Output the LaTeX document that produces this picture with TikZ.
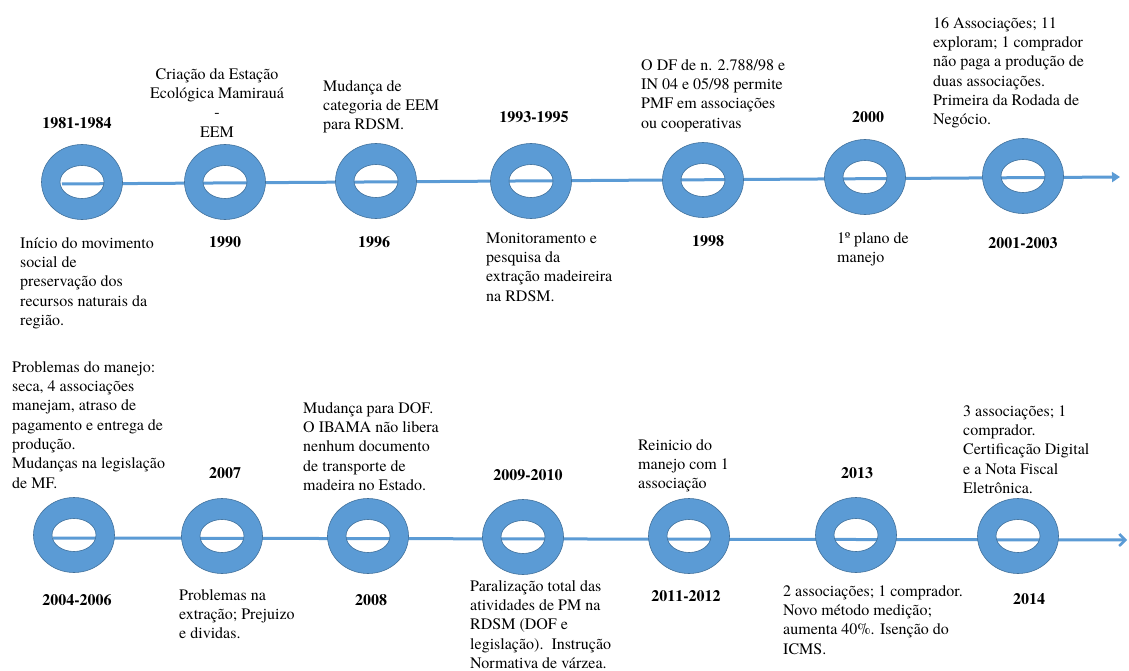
\documentclass[tikz,border=0pt]{standalone}
\usepackage{fontspec}
\setmainfont{texgyretermes}[Extension=.otf, UprightFont=*-regular, BoldFont=*-bold, ItalicFont=*-italic, BoldItalicFont=*-bolditalic]
\usetikzlibrary{arrows.meta}
\definecolor{ringblue}{HTML}{5B9BD5}
\definecolor{ringedge}{HTML}{41719C}
\newcommand\sx{\rule{0pt}{14pt}}
\newcommand\ringat[1]{\path[ringstyle] (#1) ellipse[x radius=40.5pt, y radius=37.5pt] (#1) ellipse[x radius=22pt, y radius=16.5pt];}
\tikzset{
  ringstyle/.style={fill=ringblue, draw=ringedge, line width=0.6pt, even odd rule},
  axis/.style={draw=ringblue, line width=3pt},
  txt/.style={inner sep=0pt, align=left, anchor=north west, font=\fontsize{16}{19.3}\selectfont},
  ctxt/.style={inner sep=0pt, align=center, anchor=north, font=\fontsize{16}{19.3}\selectfont},
  yr/.style={inner sep=0pt, anchor=base, font=\fontsize{16}{19.3}\selectfont\bfseries}
}
\begin{document}
\begin{tikzpicture}[x=1pt,y=-1pt]
\useasboundingbox (0,0) rectangle (1129,671);
\fill[white] (0,0) rectangle (1129,671);
% top row
\coordinate (ts) at (62,184);
\coordinate (te) at (1120,177);
\draw[axis, -{Triangle[length=8pt,width=10pt]}] (ts) -- (te);
\coordinate (t1) at (82,182);
\coordinate (t2) at (225,182);
\coordinate (t3) at (376,181);
\coordinate (t4) at (531,181);
\coordinate (t5) at (703,180);
\coordinate (t6) at (865,177);
\coordinate (t7) at (1023,176);
\foreach \c in {t1,t2,t3,t4,t5,t6,t7} {\ringat{\c}}
% bottom row
\coordinate (bs) at (53,538);
\coordinate (be) at (1127,540);
\draw[axis, -{Straight Barb[length=6pt,width=12pt,line width=2.5pt]}] (bs) -- (be);
\coordinate (b1) at (74,535);
\coordinate (b2) at (222,536);
\coordinate (b3) at (368,536);
\coordinate (b4) at (523,537);
\coordinate (b5) at (689,536);
\coordinate (b6) at (856,535);
\coordinate (b7) at (1018,536);
\foreach \c in {b1,b2,b3,b4,b5,b6,b7} {\ringat{\c}}
% top years
\node[yr] (y1) at (77,128.5) {1981-1984};
\node[yr] (y2) at (225,247.5) {1990};
\node[yr] (y3) at (374,247.5) {1996};
\node[yr] (y4) at (534,122.5) {1993-1995};
\node[yr] (y5) at (708,246.5) {1998};
\node[yr] (y6) at (868,122.5) {2000};
\node[yr] (y7) at (1023,248.5) {2001-2003};
% top texts
\node[txt] (d1) at (20,234) {\sx Início do movimento\\social de\\preservação dos\\recursos naturais da\\região.};
\node[ctxt] (d2) at (217,65) {\sx Criação da Estação\\Ecológica Mamirauá\\-\\EEM};
\node[txt] (d3) at (323,77) {\sx Mudança de\\categoria de EEM\\para RDSM.};
\node[txt] (d4) at (486,229) {\sx Monitoramento e\\pesquisa da\\extração madeireira\\na RDSM.};
\node[txt] (d5) at (641,56) {\sx O DF de n. 2.788/98 e\\IN 04 e 05/98 permite\\PMF em associações\\ou cooperativas};
\node[txt] (d6) at (837,229) {\sx 1º plano de\\manejo};
\node[txt] (d7) at (933,14) {\sx 16 Associações; 11\\exploram; 1 comprador\\não paga a produção de\\duas associações.\\Primeira da Rodada de\\Negócio.};
% bottom years
\node[yr] (z1) at (77,605.5) {2004-2006};
\node[yr] (z2) at (225,478.5) {2007};
\node[yr] (z3) at (371,605.5) {2008};
\node[yr] (z4) at (528,480.5) {2009-2010};
\node[yr] (z5) at (686,601.5) {2011-2012};
\node[yr] (z6) at (857,478.5) {2013};
\node[yr] (z7) at (1029,604.5) {2014};
% bottom texts
\node[txt] (e1) at (12,358) {\sx Problemas do manejo:\\seca, 4 associações\\manejam, atraso de\\pagamento e entrega de\\produção.\\Mudanças na legislação\\de MF.};
\node[txt] (e2) at (179,586) {\sx Problemas na\\extração; Prejuizo\\e dividas.};
\node[txt] (e3) at (303,399) {\sx Mudança para DOF.\\O IBAMA não libera\\nenhum documento\\de transporte de\\madeira no Estado.};
\node[txt] (e4) at (470,577) {\sx Paralização total das\\atividades de PM na\\RDSM (DOF e\\legislação).\ \ Instrução\\Normativa de várzea.};
\node[txt] (e5) at (638,436) {\sx Reinicio do\\manejo com 1\\associação};
\node[txt] (e6) at (783,582) {\sx 2 associações; 1 comprador.\\Novo método medição;\\aumenta 40\%. Isenção do\\ICMS.};
\node[txt] (e7) at (963,402) {\sx 3 associações; 1\\comprador.\\Certificação Digital\\e a Nota Fiscal\\Eletrônica.};
\end{tikzpicture}
\end{document}
